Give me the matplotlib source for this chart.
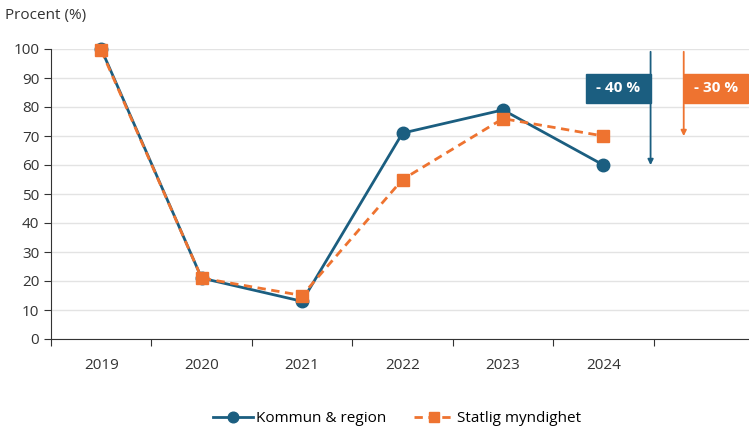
import matplotlib
matplotlib.use("Agg")
import matplotlib.pyplot as plt

years = ["2019", "2020", "2021", "2022", "2023", "2024"]
kommun = [100, 21, 13, 71, 79, 60]
statlig = [99.5, 21, 15, 55, 76, 70]
yticks = [0, 10, 20, 30, 40, 50, 60, 70, 80, 90, 100]

BLUE = "#1b5e80"
ORANGE = "#ee7330"

plt.rcParams["font.family"] = ["Open Sans", "DejaVu Sans"]

fig = plt.figure(figsize=(7.49, 4.30), dpi=100)
ax = fig.add_axes([51 / 749, 91 / 430, (749 - 51) / 749, (339 - 49) / 430])

x = list(range(len(years)))
ax.plot(x, kommun, color=BLUE, lw=2, marker="o", ms=9, label="Kommun & region",
        clip_on=False, zorder=3)
ax.plot(x, statlig, color=ORANGE, lw=2, ls=(0, (3, 2)), marker="s", ms=8,
        label="Statlig myndighet", clip_on=False, zorder=4)

ax.set_xlim(-0.5, 6.45)
ax.set_ylim(0, 100)
ax.set_yticks(yticks)
ax.tick_params(axis="y", labelsize=11, colors="#333333", length=5)
ax.set_xticks([i + 0.5 for i in range(-1, 6)])
ax.set_xticklabels([])
ax.tick_params(axis="x", length=5, colors="#333333")
for i, yr in enumerate(years):
    ax.text(i, -9, yr, ha="center", va="center", fontsize=11, color="#333333")
ax.grid(axis="y", color="#e3e3e3", lw=1)
ax.set_axisbelow(True)
for s in ["top", "right"]:
    ax.spines[s].set_visible(False)
ax.spines["left"].set_color("#333333")
ax.spines["bottom"].set_color("#333333")

fig.text(5 / 749, 1 - 16 / 430, "Procent (%)", fontsize=11, color="#333333", va="center")

# pilar och etiketter för förändringen
ax.annotate("", xy=(5.47, 59), xytext=(5.47, 100),
            arrowprops=dict(arrowstyle="-|>", color=BLUE, lw=1.3, mutation_scale=8))
ax.annotate("", xy=(5.8, 69), xytext=(5.8, 100),
            arrowprops=dict(arrowstyle="-|>", color=ORANGE, lw=1.3, mutation_scale=8))
ax.add_patch(plt.Rectangle((4.83, 81.5), 0.64, 10, color=BLUE, zorder=5))
ax.text(5.15, 86.5, "- 40 %", color="white", fontsize=11, fontweight="bold",
        ha="center", va="center", zorder=6)
ax.add_patch(plt.Rectangle((5.8, 81.5), 0.64, 10, color=ORANGE, zorder=5))
ax.text(6.12, 86.5, "- 30 %", color="white", fontsize=11, fontweight="bold",
        ha="center", va="center", zorder=6)

fig.legend(loc="center", bbox_to_anchor=(0.53, 1 - 419 / 430), ncol=2, frameon=False,
           fontsize=11, handlelength=2.6, columnspacing=1.8, handletextpad=0.2,
           markerscale=0.85)

fig.savefig("out.png", dpi=100)
